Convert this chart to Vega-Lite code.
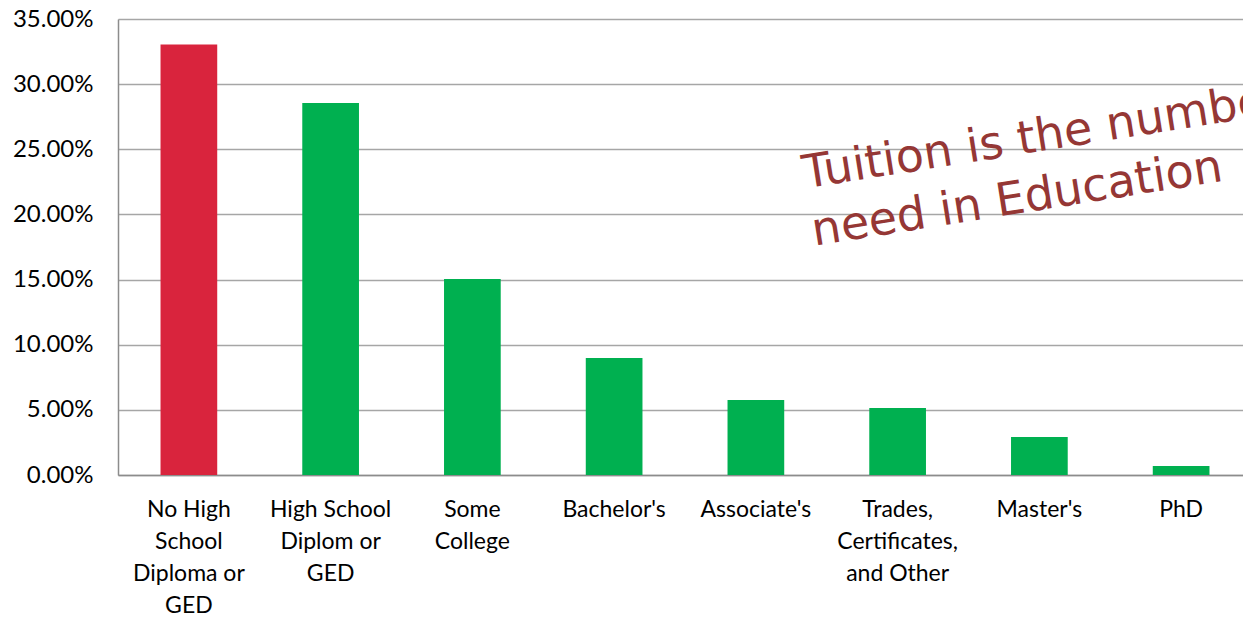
{
  "$schema": "https://vega.github.io/schema/vega-lite/v6.json",
  "width": 1134,
  "height": 456,
  "autosize": {"type": "none"},
  "padding": {"left": 118, "top": 19, "right": 10, "bottom": 144},
  "background": "white",
  "config": {"view": {"stroke": null}},
  "data": {"values": [
    {"category": "No High School Diploma or GED", "share": 0.3305, "highlight": "yes"},
    {"category": "High School Diplom or GED", "share": 0.2855, "highlight": "no"},
    {"category": "Some College", "share": 0.1505, "highlight": "no"},
    {"category": "Bachelor's", "share": 0.0898, "highlight": "no"},
    {"category": "Associate's", "share": 0.0576, "highlight": "no"},
    {"category": "Trades, Certificates, and Other", "share": 0.0514, "highlight": "no"},
    {"category": "Master's", "share": 0.0292, "highlight": "no"},
    {"category": "PhD", "share": 0.0069, "highlight": "no"}
  ]},
  "layer": [
    {
      "mark": {"type": "bar"},
      "encoding": {
        "x": {
          "field": "category", "type": "nominal", "sort": null,
          "scale": {"paddingInner": 0.6, "paddingOuter": 0.3},
          "axis": {
            "title": null, "labelAngle": 0, "ticks": false,
            "domainColor": "#8c8c8c", "domainWidth": 1.5,
            "labelFont": "Lato", "labelFontSize": 23, "labelColor": "#000000",
            "labelPadding": 23, "labelLineHeight": 32, "labelBaseline": "top",
            "labelLimit": 200, "labelOverlap": false,
            "labelExpr": "datum.value == 'No High School Diploma or GED' ? ['No High','School','Diploma or','GED'] : datum.value == 'High School Diplom or GED' ? ['High School','Diplom or','GED'] : datum.value == 'Some College' ? ['Some','College'] : datum.value == 'Trades, Certificates, and Other' ? ['Trades,','Certificates,','and Other'] : datum.value"
          }
        },
        "y": {
          "field": "share", "type": "quantitative",
          "scale": {"domain": [0, 0.35], "nice": false},
          "axis": {
            "title": null, "format": ".2%", "values": [0, 0.05, 0.1, 0.15, 0.2, 0.25, 0.3, 0.35],
            "ticks": false, "domainColor": "#8c8c8c", "domainWidth": 1.5,
            "gridColor": "#a6a6a6", "gridWidth": 1.5, "gridOpacity": 1,
            "labelFont": "Lato", "labelFontSize": 24, "labelColor": "#000000",
            "labelPadding": 25, "labelOverlap": false, "labelBound": false, "labelFlush": false
          }
        },
        "color": {
          "field": "highlight", "type": "nominal",
          "scale": {"domain": ["yes", "no"], "range": ["#d9243d", "#00b050"]},
          "legend": null
        }
      }
    },
    {
      "data": {"values": [{"category": "Associate's", "share": 0.214, "note": "Tuition is the number one|need in Education"}]},
      "mark": {
        "type": "text", "align": "left", "baseline": "alphabetic",
        "angle": -9, "dx": 50, "font": "DejaVu Sans", "fontSize": 46,
        "color": "#953735", "lineHeight": 58, "lineBreak": "|"
      },
      "encoding": {
        "x": {"field": "category", "type": "nominal", "sort": null},
        "y": {"field": "share", "type": "quantitative"},
        "text": {"field": "note"}
      }
    }
  ]
}
